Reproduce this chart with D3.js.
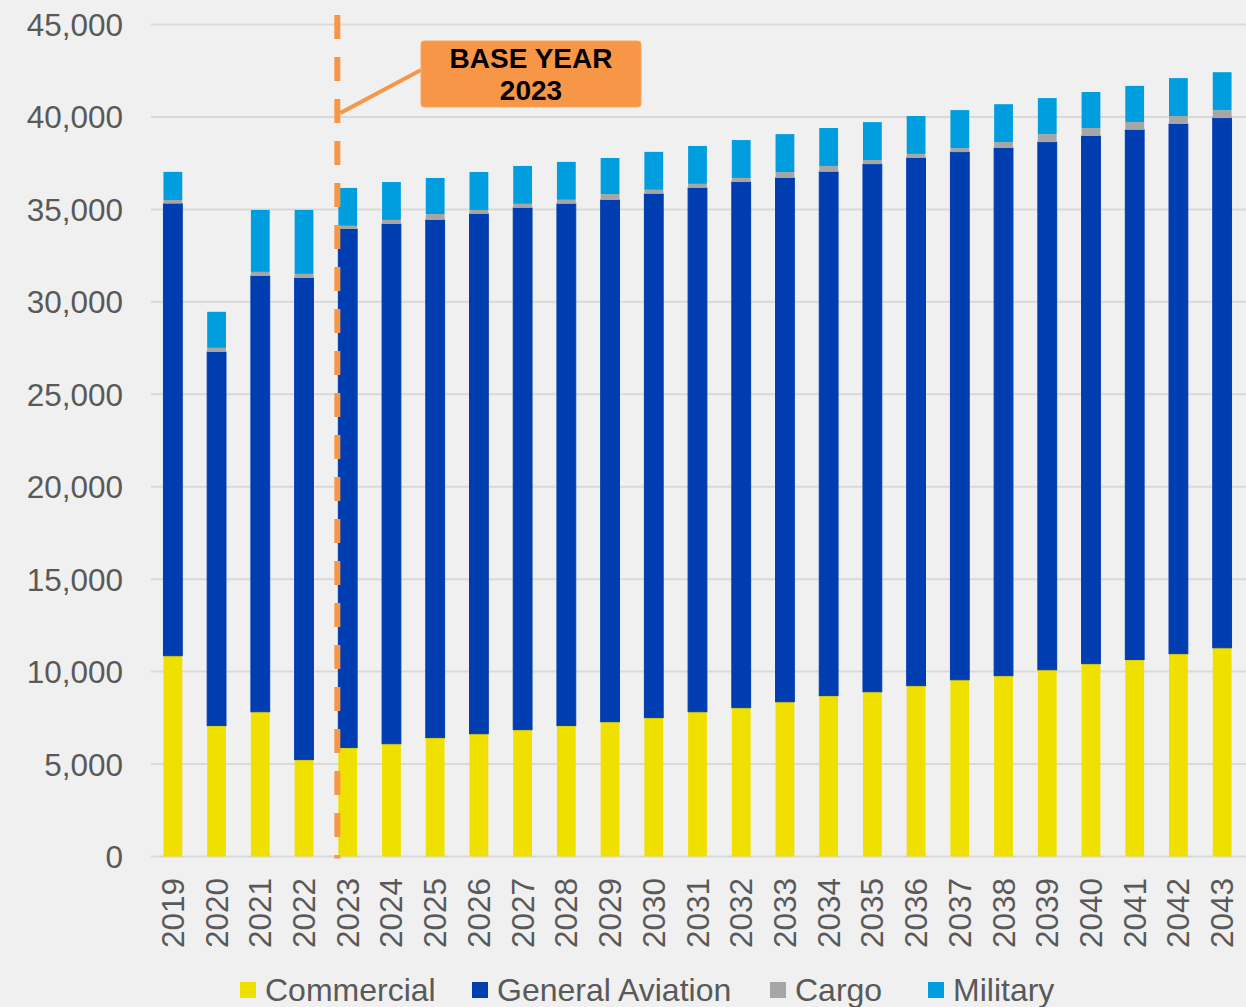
<!DOCTYPE html>
<html>
<head>
<meta charset="utf-8">
<script src="https://cdn.jsdelivr.net/npm/d3@7"></script>
<style>
  html, body { margin: 0; padding: 0; background: #f0f0f0; }
  svg { display: block; }
</style>
</head>
<body>
<div id="chart"></div>
<script>
// ── Data ─────────────────────────────────────────────────────────────────────

const years = [
  "2019", "2020", "2021", "2022", "2023", "2024", "2025", "2026", "2027", "2028",
  "2029", "2030", "2031", "2032", "2033", "2034", "2035", "2036", "2037", "2038",
  "2039", "2040", "2041", "2042", "2043",
];

const commercial = [
  10860, 7080, 7830, 5240, 5890, 6100, 6430, 6640, 6860, 7080,
  7290, 7510, 7830, 8050, 8370, 8700, 8910, 9240, 9560, 9780,
  10100, 10430, 10650, 10970, 11290,
];

const generalAviation = [
  24450, 20210, 23570, 26050, 28050, 28110, 28000, 28110, 28220, 28220,
  28220, 28330, 28330, 28430, 28330, 28330, 28540, 28540, 28540, 28540,
  28540, 28540, 28650, 28650, 28650,
];

const cargo = [
  200, 220, 220, 220, 170, 220, 320, 220, 220, 220,
  320, 220, 220, 220, 320, 320, 220, 220, 220, 320,
  430, 430, 430, 430, 430,
];

const military = [
  1520, 1950, 3350, 3460, 2050, 2050, 1950, 2050, 2050, 2050,
  1950, 2050, 2050, 2050, 2050, 2050, 2050, 2050, 2050, 2050,
  1950, 1950, 1950, 2050, 2050,
];

const yTicks = [0, 5000, 10000, 15000, 20000, 25000, 30000, 35000, 40000, 45000];

const seriesNames = ["Commercial", "General Aviation", "Cargo", "Military"];
const seriesKeys = ["commercial", "ga", "cargo", "military"];
const seriesColors = ["#f0e000", "#003db1", "#a6a6a6", "#009ddf"];

const baseYear = "2023";
const baseLabel = ["BASE YEAR", "2023"];

// ── Chart ────────────────────────────────────────────────────────────────────

const width = 1246;
const height = 1007;
const margin = { top: 24.5, right: 2, bottom: 150.5, left: 151 };
const font = "'Liberation Sans', Arial, sans-serif";
const textColor = "#595959";
const orange = "#f79646";

const rows = years.map((y, i) => ({
  year: y,
  commercial: commercial[i],
  ga: generalAviation[i],
  cargo: cargo[i],
  military: military[i],
}));

const svg = d3.select("#chart").append("svg")
  .attr("width", width).attr("height", height)
  .style("background", "#f0f0f0");

const x = d3.scaleBand()
  .domain(years)
  .range([margin.left, width - margin.right])
  .paddingInner(0.57)
  .paddingOuter(0.285);

const y = d3.scaleLinear()
  .domain([0, 45000])
  .range([height - margin.bottom, margin.top]);

// gridlines
svg.append("g")
  .selectAll("line")
  .data(yTicks)
  .join("line")
  .attr("x1", margin.left).attr("x2", width)
  .attr("y1", (d) => y(d)).attr("y2", (d) => y(d))
  .attr("stroke", "#d9d9d9").attr("stroke-width", 2);

// y axis labels
const yAxis = d3.axisLeft(y).tickValues(yTicks).tickFormat(d3.format(",")).tickSize(0).tickPadding(0);
const yG = svg.append("g").attr("transform", `translate(123,0)`).call(yAxis);
yG.select(".domain").remove();
yG.selectAll("text")
  .attr("font-family", font).attr("font-size", "31.5px")
  .attr("fill", textColor).attr("dy", "0.35em");

// x axis labels (rotated)
svg.append("g")
  .selectAll("text")
  .data(years)
  .join("text")
  .attr("transform", (d) => `translate(${x(d) + x.bandwidth() / 2},878) rotate(-90)`)
  .attr("text-anchor", "end")
  .attr("dy", "0.35em")
  .attr("font-family", font).attr("font-size", "31.5px")
  .attr("fill", textColor)
  .text((d) => d);

// stacked bars
const stacked = d3.stack().keys(seriesKeys)(rows);

svg.append("g")
  .selectAll("g")
  .data(stacked)
  .join("g")
  .attr("fill", (d, i) => seriesColors[i])
  .each(function (layer, i) {
    d3.select(this).selectAll("rect")
      .data(layer)
      .join("rect")
      .attr("x", (d) => x(d.data.year))
      .attr("width", x.bandwidth())
      .attr("y", (d) => y(d[1]))
      .attr("height", (d) => y(d[0]) - y(d[1]))
      .attr("stroke", seriesKeys[i] === "ga" ? seriesColors[i] : "none")
      .attr("stroke-width", 1);
  });

// base year marker
const bx = x(baseYear) - 1;
svg.append("line")
  .attr("x1", bx).attr("x2", bx)
  .attr("y1", 15).attr("y2", height - margin.bottom + 2)
  .attr("stroke", orange).attr("stroke-width", 6)
  .attr("stroke-dasharray", "24 18");

const box = { x: 421, y: 41, w: 220, h: 66 };

svg.append("line")
  .attr("x1", box.x).attr("y1", 70)
  .attr("x2", bx + 3).attr("y2", 113)
  .attr("stroke", orange).attr("stroke-width", 4);

svg.append("rect")
  .attr("x", box.x).attr("y", box.y)
  .attr("width", box.w).attr("height", box.h)
  .attr("rx", 3)
  .attr("fill", orange).attr("stroke", "#f9a860").attr("stroke-width", 1);

svg.append("g")
  .selectAll("text")
  .data(baseLabel)
  .join("text")
  .attr("x", box.x + box.w / 2)
  .attr("y", (d, i) => 67.5 + i * 32.5)
  .attr("text-anchor", "middle")
  .attr("font-family", font).attr("font-size", "28px").attr("font-weight", "bold")
  .attr("fill", "#000")
  .text((d) => d);

// legend (item positions as laid out in the original)
const legendX = [240, 472, 770, 928];
const legend = svg.append("g").attr("transform", "translate(0,982)");
seriesNames.forEach((name, i) => {
  const item = legend.append("g").attr("transform", `translate(${legendX[i]},0)`);
  item.append("rect").attr("width", 16).attr("height", 16).attr("fill", seriesColors[i]);
  item.append("text")
    .attr("x", 25).attr("y", 19)
    .attr("font-family", font).attr("font-size", "32px")
    .attr("fill", textColor)
    .text(name);
});
</script>
</body>
</html>
